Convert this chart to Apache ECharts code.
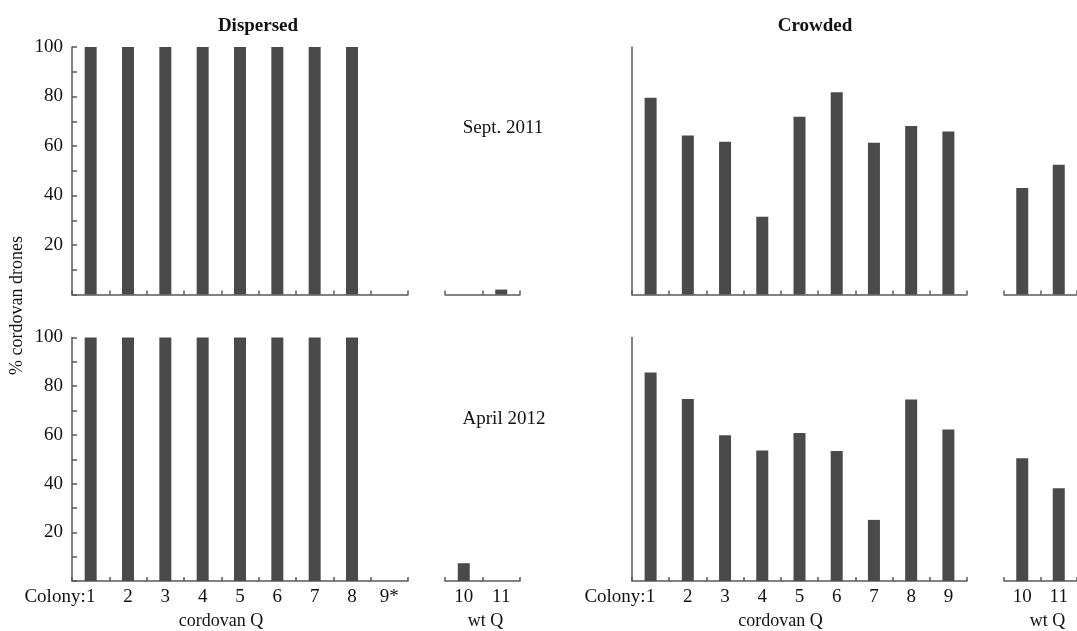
<!DOCTYPE html>
<html>
<head>
<meta charset="utf-8">
<script src="https://cdn.jsdelivr.net/npm/echarts@6/dist/echarts.min.js"></script>
<style>
html,body{margin:0;padding:0;background:#fff;}
#chart{width:1077px;height:631px;}
</style>
</head>
<body>
<div id="chart"></div>
<script>
// ---- data ----
const cordCatsDisp = ['1','2','3','4','5','6','7','8','9*'];
const cordCatsCrowd = ['1','2','3','4','5','6','7','8','9'];
const wtCats = ['10','11'];
const yTickLabels = [20, 40, 60, 80, 100];

const dispSept = [100,100,100,100,100,100,100,100,0];
const dispSeptWt = [0, 2];
const dispApr = [100,100,100,100,100,100,100,100,0];
const dispAprWt = [7.3, 0];

const crowdSept = [79.5, 64.2, 61.7, 31.4, 71.8, 81.7, 61.3, 68.1, 65.9];
const crowdSeptWt = [43.0, 52.4];
const crowdApr = [85.6, 74.7, 59.9, 53.6, 60.8, 53.4, 25.1, 74.5, 62.2];
const crowdAprWt = [50.4, 38.1];

const panelTitles = ['Dispersed', 'Crowded'];
const dateLabels = ['Sept. 2011', 'April 2012'];
const groupNames = ['cordovan Q', 'wt Q'];
const colonyPrefix = 'Colony:';
const yName = '% cordovan drones';

// ---- style ----
const FONT = '"Liberation Serif","Times New Roman",serif';
const BAR = '#4a4a4a';
const AXIS = '#5a5a5a';
const TXT = '#111111';

const chart = echarts.init(document.getElementById('chart'), null, {renderer: 'canvas'});

const topY = 47, topH = 247.5, botY = 337.5, botH = 246.5;
const cols = [
  {left: 72, width: 336},   // dispersed cordovan
  {left: 445, width: 75},   // dispersed wt
  {left: 632, width: 335},  // crowded cordovan
  {left: 1004, width: 73}   // crowded wt
];
const grids = [];
[ [topY, topH], [botY, botH] ].forEach(([t, h]) => {
  cols.forEach(c => grids.push({left: c.left, top: t, width: c.width, height: h, containLabel: false}));
});

const catsFor = [cordCatsDisp, wtCats, cordCatsCrowd, wtCats];
const dataFor = [
  [dispSept, dispSeptWt, crowdSept, crowdSeptWt],
  [dispApr, dispAprWt, crowdApr, crowdAprWt]
];

const xAxes = [], yAxes = [], series = [];
for (let row = 0; row < 2; row++) {
  for (let col = 0; col < 4; col++) {
    const idx = row * 4 + col;
    const isBottom = row === 1;
    const isWt = col === 1 || col === 3;
    xAxes.push({
      type: 'category',
      gridIndex: idx,
      data: catsFor[col],
      boundaryGap: true,
      axisLine: {show: true, lineStyle: {color: AXIS, width: 1.5}},
      axisTick: {show: true, inside: true, length: 4, lineStyle: {color: AXIS, width: 1.5}},
      axisLabel: {show: isBottom, margin: 7, fontFamily: FONT, fontSize: 19, color: TXT},
      name: isBottom ? (isWt ? groupNames[1] : groupNames[0]) : '',
      nameLocation: 'middle',
      nameGap: 31,
      nameTextStyle: {fontFamily: FONT, fontSize: 18, color: TXT,
        padding: isWt ? (col === 3 ? [0, 0, 0, 14] : [0, 0, 0, 6]) : [0, 38, 0, 0]},
      splitLine: {show: false}
    });
    const isDisp = col === 0;
    yAxes.push({
      type: 'value',
      gridIndex: idx,
      min: 0, max: 100, interval: 10,
      show: !isWt,
      axisLine: {show: !isWt, lineStyle: {color: AXIS, width: 1.5}},
      axisTick: {show: isDisp, inside: true, length: 5, lineStyle: {color: AXIS, width: 1.5}},
      axisLabel: {
        show: isDisp, fontFamily: FONT, fontSize: 19, color: TXT, margin: 9,
        formatter: v => yTickLabels.indexOf(v) >= 0 ? String(v) : ''
      },
      splitLine: {show: false}
    });
    series.push({
      type: 'bar',
      xAxisIndex: idx,
      yAxisIndex: idx,
      data: dataFor[row][col],
      barWidth: 12,
      itemStyle: {color: BAR},
      silent: true,
      animation: false
    });
  }
}

const titles = [
  {text: panelTitles[0], left: 253, top: 12, textAlign: 'center',
   textStyle: {fontFamily: FONT, fontSize: 19, fontWeight: 'bold', color: TXT}},
  {text: panelTitles[1], left: 810, top: 12, textAlign: 'center',
   textStyle: {fontFamily: FONT, fontSize: 19, fontWeight: 'bold', color: TXT}},
  {text: dateLabels[0], left: 498, top: 114, textAlign: 'center',
   textStyle: {fontFamily: FONT, fontSize: 19, fontWeight: 'normal', color: TXT}},
  {text: dateLabels[1], left: 499, top: 405, textAlign: 'center',
   textStyle: {fontFamily: FONT, fontSize: 19, fontWeight: 'normal', color: TXT}}
];

const yNameGraphic = {
  type: 'text',
  left: 8, top: 236,
  rotation: Math.PI / 2,
  style: {text: yName, font: '18px ' + FONT, fill: TXT}
};

chart.setOption({
  animation: false,
  backgroundColor: '#ffffff',
  title: titles,
  grid: grids,
  xAxis: xAxes,
  yAxis: yAxes,
  series: series,
  graphic: [yNameGraphic]
});

// "Colony:" prefix placed just left of the first category label in bottom panels
const extra = [];
[4, 6].forEach(ax => {
  const p = chart.convertToPixel({xAxisIndex: ax, yAxisIndex: ax}, [0, 0]);
  extra.push({
    type: 'text',
    x: p[0] - 5, y: p[1] + 7,
    style: {text: colonyPrefix, font: '19px ' + FONT, fill: TXT, align: 'right', verticalAlign: 'top'}
  });
});
chart.setOption({graphic: [yNameGraphic].concat(extra)});
</script>
</body>
</html>
